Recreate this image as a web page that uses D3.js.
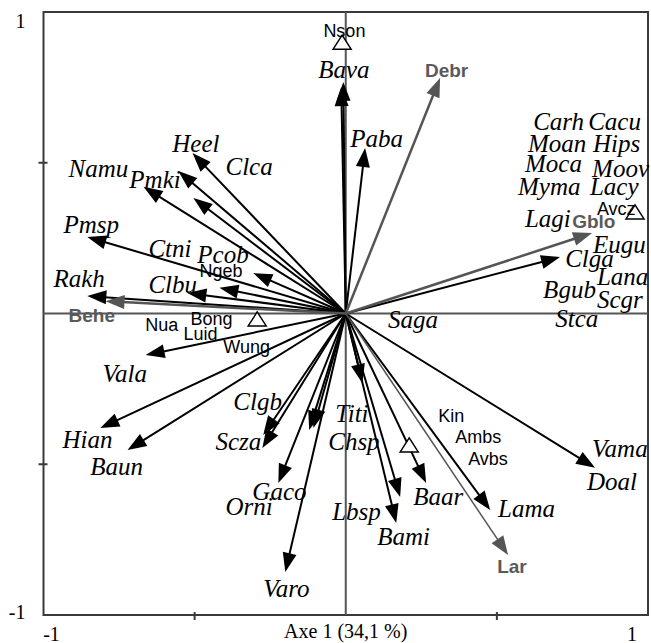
<!DOCTYPE html>
<html>
<head>
<meta charset="utf-8">
<script src="https://cdn.jsdelivr.net/npm/d3@7"></script>
<style>
  body { margin: 0; background: #fff; }
  svg { display: block; }
  .sp { font-family: "Liberation Serif", serif; font-style: italic; font-size: 25px; fill: #000; }
  .site { font-family: "Liberation Sans", Arial, sans-serif; font-size: 18px; fill: #000; }
  .env { font-family: "Liberation Sans", Arial, sans-serif; font-weight: bold; font-size: 19px; fill: #5a5a5a; }
  .tick { font-family: "Liberation Serif", serif; font-size: 20px; fill: #000; }
</style>
</head>
<body>
<svg id="chart"></svg>
<script>
// species arrows (tips, axis units)
var speciesX = [-0.008, -0.015, 0.064, 0.709, -0.507, -0.554, -0.504, -0.669, -0.855, -0.306, -0.418, -0.524, -0.855,
  -0.662, -0.812, -0.722, -0.273, -0.276, -0.223, -0.121, -0.107, -0.200, 0.055, 0.180, 0.167, 0.266, 0.478, 0.825];
var speciesY = [0.768, 0.751, 0.549, 0.187, 0.532, 0.473, 0.383, 0.420, 0.254, 0.134, 0.085, 0.068, 0.058,
  -0.138, -0.380, -0.453, -0.403, -0.446, -0.562, -0.386, -0.380, -0.857, -0.231, -0.609, -0.695, -0.562, -0.652, -0.512];

// environmental variables (gray arrows)
var envNames = ["Debr", "Gblo", "Behe", "Lar"];
var envX = [0.312, 0.815, -0.795, 0.537];
var envY = [0.781, 0.267, 0.041, -0.801];
var envLabelX = [0.262, 0.749, -0.917, 0.501];
var envLabelY = [0.784, 0.284, -0.028, -0.861];

// sites (open triangles)
var siteX = [-0.012, -0.293, 0.957, 0.210];
var siteY = [0.900, -0.018, 0.337, -0.436];

// site labels
var siteNames = ["Nson", "Ngeb", "Bong", "Nua", "Luid", "Wung", "Kin", "Ambs", "Avbs", "Avcz"];
var siteLabelX = [-0.074, -0.484, -0.514, -0.663, -0.537, -0.405, 0.306, 0.362, 0.405, 0.831];
var siteLabelY = [0.917, 0.121, -0.038, -0.058, -0.088, -0.131, -0.360, -0.430, -0.502, 0.327];

// species labels
var speciesNames = ["Bava", "Paba", "Heel", "Clca", "Namu", "Pmki", "Pmsp", "Ctni", "Pcob", "Rakh", "Clbu",
  "Vala", "Hian", "Baun", "Clgb", "Scza", "Gaco", "Orni", "Varo", "Saga", "Stca", "Titi", "Chsp",
  "Vama", "Doal", "Baar", "Lama", "Lbsp", "Bami", "Carh", "Cacu", "Moan", "Hips", "Moca", "Moov",
  "Myma", "Lacy", "Lagi", "Eugu", "Clga", "Lana", "Bgub", "Scgr"];
var speciesLabelX = [-0.091, 0.015, -0.574, -0.398, -0.917, -0.716, -0.934, -0.653, -0.491, -0.967, -0.653,
  -0.805, -0.937, -0.845, -0.372, -0.431, -0.309, -0.398, -0.273, 0.140, 0.693, -0.035, -0.058,
  0.815, 0.798, 0.223, 0.504, -0.045, 0.104, 0.620, 0.802, 0.603, 0.818, 0.593, 0.815,
  0.570, 0.808, 0.593, 0.818, 0.726, 0.831, 0.653, 0.831];
var speciesLabelY = [0.781, 0.552, 0.536, 0.459, 0.453, 0.416, 0.267, 0.187, 0.167, 0.088, 0.068,
  -0.227, -0.446, -0.536, -0.320, -0.453, -0.619, -0.668, -0.940, -0.048, -0.045, -0.360, -0.453,
  -0.476, -0.585, -0.635, -0.675, -0.685, -0.768, 0.609, 0.609, 0.536, 0.536, 0.469, 0.453,
  0.393, 0.393, 0.287, 0.201, 0.154, 0.095, 0.051, 0.018];

var axisTitle = "Axe 1 (34,1 %)";

var width = 651, height = 643;
var margin = {top: 12, right: 3, bottom: 28, left: 43.5};

var svg = d3.select("#chart")
    .attr("width", width)
    .attr("height", height);

var x = d3.scaleLinear().domain([-1, 1]).range([margin.left, width - margin.right]);
var y = d3.scaleLinear().domain([-1, 1]).range([height - margin.bottom, margin.top]);

// frame
svg.append("rect")
    .attr("x", x(-1)).attr("y", y(1))
    .attr("width", x(1) - x(-1)).attr("height", y(-1) - y(1))
    .attr("fill", "none").attr("stroke", "#3a3a3a").attr("stroke-width", 2);

// axes through the origin
svg.append("line")
    .attr("x1", x(-1)).attr("x2", x(1)).attr("y1", y(0)).attr("y2", y(0))
    .attr("stroke", "#555").attr("stroke-width", 2);
svg.append("line")
    .attr("x1", x(0)).attr("x2", x(0)).attr("y1", y(1)).attr("y2", y(-1))
    .attr("stroke", "#555").attr("stroke-width", 2);

// tick marks
[-0.5, 0.5].forEach(function(t) {
  svg.append("line")
      .attr("x1", x(-1) - 5).attr("x2", x(-1) + 4).attr("y1", y(t)).attr("y2", y(t))
      .attr("stroke", "#3a3a3a").attr("stroke-width", 2);
  svg.append("line")
      .attr("x1", x(t)).attr("x2", x(t)).attr("y1", y(-1) - 3).attr("y2", y(-1) + 5)
      .attr("stroke", "#3a3a3a").attr("stroke-width", 2);
});

// tick labels
svg.append("text").attr("class", "tick").attr("x", x(-1) - 18).attr("y", y(1) + 16)
    .style("text-anchor", "end").text("1");
svg.append("text").attr("class", "tick").attr("x", x(-1) - 18).attr("y", y(-1) + 4)
    .style("text-anchor", "end").text("-1");
svg.append("text").attr("class", "tick").attr("x", x(-1) + 8).attr("y", y(-1) + 26)
    .style("text-anchor", "middle").text("-1");
svg.append("text").attr("class", "tick").attr("x", x(1) - 16).attr("y", y(-1) + 26)
    .style("text-anchor", "middle").text("1");
svg.append("text").attr("class", "tick").attr("x", x(0)).attr("y", y(-1) + 23)
    .style("text-anchor", "middle").text(axisTitle);

// draws one arrow from the origin to (tx, ty)
function arrow(tx, ty, color, lw, headLen, headW) {
  var x0 = x(0), y0 = y(0), x1 = x(tx), y1 = y(ty);
  var dx = x1 - x0, dy = y1 - y0, len = Math.sqrt(dx * dx + dy * dy);
  var ux = dx / len, uy = dy / len;
  var bx = x1 - ux * headLen, by = y1 - uy * headLen;
  svg.append("line")
      .attr("x1", x0).attr("y1", y0).attr("x2", bx + ux * 2).attr("y2", by + uy * 2)
      .attr("stroke", color).attr("stroke-width", lw);
  svg.append("path")
      .attr("d", "M" + x1 + "," + y1 +
        "L" + (bx - uy * headW) + "," + (by + ux * headW) +
        "L" + (bx + uy * headW) + "," + (by - ux * headW) + "Z")
      .attr("fill", color);
}

speciesX.forEach(function(d, i) {
  arrow(speciesX[i], speciesY[i], "#000", 2, 19, 7);
});

envX.forEach(function(d, i) {
  var lw = envNames[i] == "Lar" ? 1.5 : 2.5;
  arrow(envX[i], envY[i], "#555", lw, 19, 7);
});

// site triangles
svg.selectAll(".tri")
    .data(siteX)
  .enter().append("path")
    .attr("class", "tri")
    .attr("d", function(d, i) {
      var cx = x(siteX[i]), cy = y(siteY[i]);
      return "M" + cx + "," + (cy - 7) + "L" + (cx + 9) + "," + (cy + 7) + "L" + (cx - 9) + "," + (cy + 7) + "Z";
    })
    .attr("fill", "#fff").attr("stroke", "#000").attr("stroke-width", 1.5);

// labels
svg.selectAll(".sp")
    .data(speciesNames)
  .enter().append("text")
    .attr("class", "sp")
    .attr("x", function(d, i) { return x(speciesLabelX[i]); })
    .attr("y", function(d, i) { return y(speciesLabelY[i]); })
    .text(function(d) { return d; });

svg.selectAll(".site")
    .data(siteNames)
  .enter().append("text")
    .attr("class", "site")
    .attr("x", function(d, i) { return x(siteLabelX[i]); })
    .attr("y", function(d, i) { return y(siteLabelY[i]); })
    .text(function(d) { return d; });

svg.selectAll(".env")
    .data(envNames)
  .enter().append("text")
    .attr("class", "env")
    .attr("x", function(d, i) { return x(envLabelX[i]); })
    .attr("y", function(d, i) { return y(envLabelY[i]); })
    .text(function(d) { return d; });
</script>
</body>
</html>
